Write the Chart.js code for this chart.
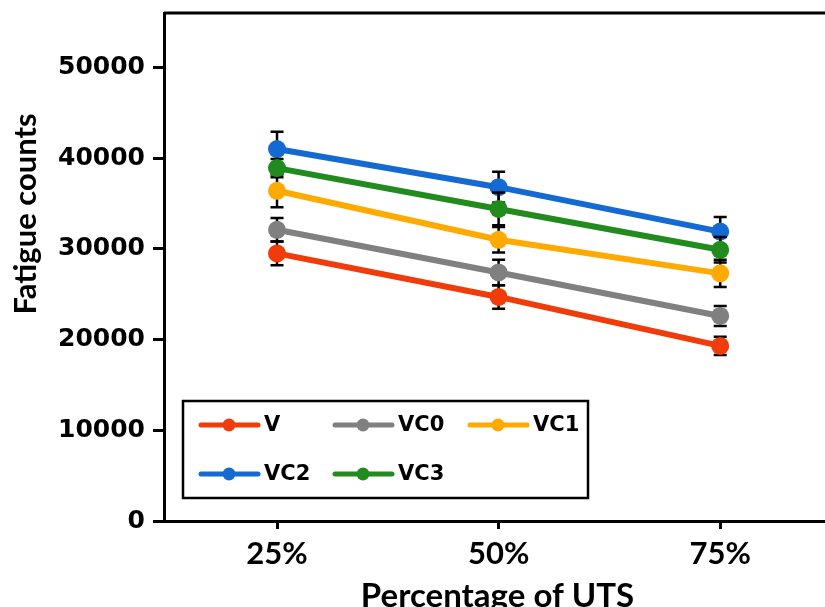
<!DOCTYPE html>
<html>
<head>
<meta charset="utf-8">
<script src="https://cdn.jsdelivr.net/npm/chart.js@4"></script>
<style>
html,body{margin:0;padding:0;background:#fff;overflow:hidden;}
#wrap{position:relative;width:840px;height:607px;}
</style>
</head>
<body>
<div id="wrap"><canvas id="c" width="840" height="607"></canvas></div>
<script>
const categories = ["25%", "50%", "75%"];
const seriesNames = ["V", "VC0", "VC1", "VC2", "VC3"];
const seriesColors = ["#F03C0A", "#808080", "#FFAA00", "#1469D2", "#228B1E"];
const vV   = [29500, 24700, 19300];
const vVC0 = [32100, 27400, 22600];
const vVC1 = [36400, 31000, 27300];
const vVC2 = [41000, 36800, 31900];
const vVC3 = [38900, 34400, 29900];
const eV   = [1300, 1300, 1000];
const eVC0 = [1300, 1400, 1100];
const eVC1 = [1800, 1400, 1500];
const eVC2 = [1900, 1700, 1600];
const eVC3 = [1000, 1800, 1400];
const yTicks = [0, 10000, 20000, 30000, 40000, 50000];
const xTitle = 'Percentage of UTS';
const yTitle = 'Fatigue counts';

const values = [vV, vVC0, vVC1, vVC2, vVC3];
const errors = [eV, eVC0, eVC1, eVC2, eVC3];

const datasets = seriesNames.map((name, i) => ({
  label: name,
  data: values[i].map((v, j) => ({x: j, y: v})),
  errors: errors[i],
  borderColor: seriesColors[i],
  backgroundColor: seriesColors[i],
  borderWidth: 6,
  pointRadius: 9,
  pointBorderWidth: 0,
  pointBackgroundColor: seriesColors[i],
  tension: 0,
  order: seriesNames.length - i
}));

const errorBarPlugin = {
  id: 'errorBars',
  beforeDatasetDraw(chart, args) {
    const ds = chart.data.datasets[args.index];
    const xs = chart.scales.x, ys = chart.scales.y;
    const ctx = chart.ctx;
    ctx.save();
    ctx.strokeStyle = '#000';
    ctx.lineWidth = 2.5;
    ds.data.forEach((p, j) => {
      const e = ds.errors[j];
      const px = xs.getPixelForValue(p.x);
      const top = ys.getPixelForValue(p.y + e);
      const bot = ys.getPixelForValue(p.y - e);
      ctx.beginPath();
      ctx.moveTo(px, top); ctx.lineTo(px, bot);
      ctx.moveTo(px - 6.5, top); ctx.lineTo(px + 6.5, top);
      ctx.moveTo(px - 6.5, bot); ctx.lineTo(px + 6.5, bot);
      ctx.stroke();
    });
    ctx.restore();
  }
};

const frameLegendPlugin = {
  id: 'frameLegend',
  afterDraw(chart) {
    const ctx = chart.ctx;
    const a = chart.chartArea;
    ctx.save();
    ctx.strokeStyle = '#000';
    ctx.lineWidth = 3;
    ctx.beginPath();
    ctx.moveTo(a.left, a.top);
    ctx.lineTo(a.right, a.top);
    ctx.lineTo(a.right, a.bottom);
    ctx.stroke();
    // y axis title
    ctx.save();
    ctx.translate(26, 214);
    ctx.rotate(-Math.PI / 2);
    ctx.font = 'bold 31px Lato';
    ctx.fillStyle = '#000';
    ctx.textAlign = 'center';
    ctx.textBaseline = 'middle';
    ctx.fillText(yTitle, 0, 0);
    ctx.restore();
    // legend box
    const bx = 183, by = 401, bw = 405, bh = 97;
    ctx.fillStyle = '#fff';
    ctx.fillRect(bx, by, bw, bh);
    ctx.lineWidth = 2.5;
    ctx.strokeRect(bx, by, bw, bh);
    const cols = [199, 333, 468];
    const rows = [425, 474];
    ctx.font = 'bold 21px "DejaVu Sans"';
    ctx.textBaseline = 'middle';
    ctx.textAlign = 'left';
    chart.data.datasets.forEach((ds, i) => {
      const x = cols[i % 3], y = rows[Math.floor(i / 3)];
      ctx.strokeStyle = ds.borderColor;
      ctx.lineWidth = 5;
      ctx.lineCap = 'round';
      ctx.beginPath();
      ctx.moveTo(x + 2, y); ctx.lineTo(x + 59, y);
      ctx.stroke();
      ctx.fillStyle = ds.borderColor;
      ctx.beginPath();
      ctx.arc(x + 30, y, 6.5, 0, Math.PI * 2);
      ctx.fill();
      ctx.fillStyle = '#000';
      ctx.fillText(ds.label, x + 65, y + 1);
    });
    ctx.restore();
  }
};

new Chart(document.getElementById('c'), {
  type: 'line',
  data: { datasets },
  plugins: [errorBarPlugin, frameLegendPlugin],
  options: {
    responsive: false,
    animation: false,
    devicePixelRatio: 1,
    layout: { padding: { top: 13, right: 8, left: 0, bottom: 0 } },
    plugins: { legend: { display: false }, tooltip: { enabled: false } },
    scales: {
      x: {
        type: 'linear',
        min: -0.51,
        max: 2.5,
        afterBuildTicks(scale) { scale.ticks = categories.map((c, i) => ({value: i})); },
        afterFit(scale) { scale.height = 86; scale.paddingLeft = 0; scale.paddingRight = 0; },
        ticks: {
          callback: (v) => categories[v] !== undefined ? categories[v] : '',
          color: '#000',
          font: { family: 'Lato', weight: 'bold', size: 31 },
          padding: 6,
          maxRotation: 0,
          autoSkip: false
        },
        grid: { drawOnChartArea: false, color: '#000', tickLength: 8, tickWidth: 3 },
        border: { color: '#000', width: 3 },
        title: {
          display: true,
          text: xTitle,
          color: '#000',
          font: { family: 'Lato', weight: 'bold', size: 33 },
          padding: { top: 0, bottom: -9 }
        }
      },
      y: {
        min: 0,
        max: 56000,
        afterBuildTicks(scale) { scale.ticks = yTicks.map(v => ({value: v})); },
        afterFit(scale) { scale.width = 164; scale.paddingTop = 0; scale.paddingBottom = 0; },
        ticks: {
          color: '#000',
          font: { family: 'DejaVu Sans', weight: 'bold', size: 25 },
          padding: 8,
          callback: (v) => String(v)
        },
        grid: { drawOnChartArea: false, color: '#000', tickLength: 11, tickWidth: 3 },
        border: { color: '#000', width: 3 },
        title: { display: false }
      }
    }
  }
});
</script>
</body>
</html>
